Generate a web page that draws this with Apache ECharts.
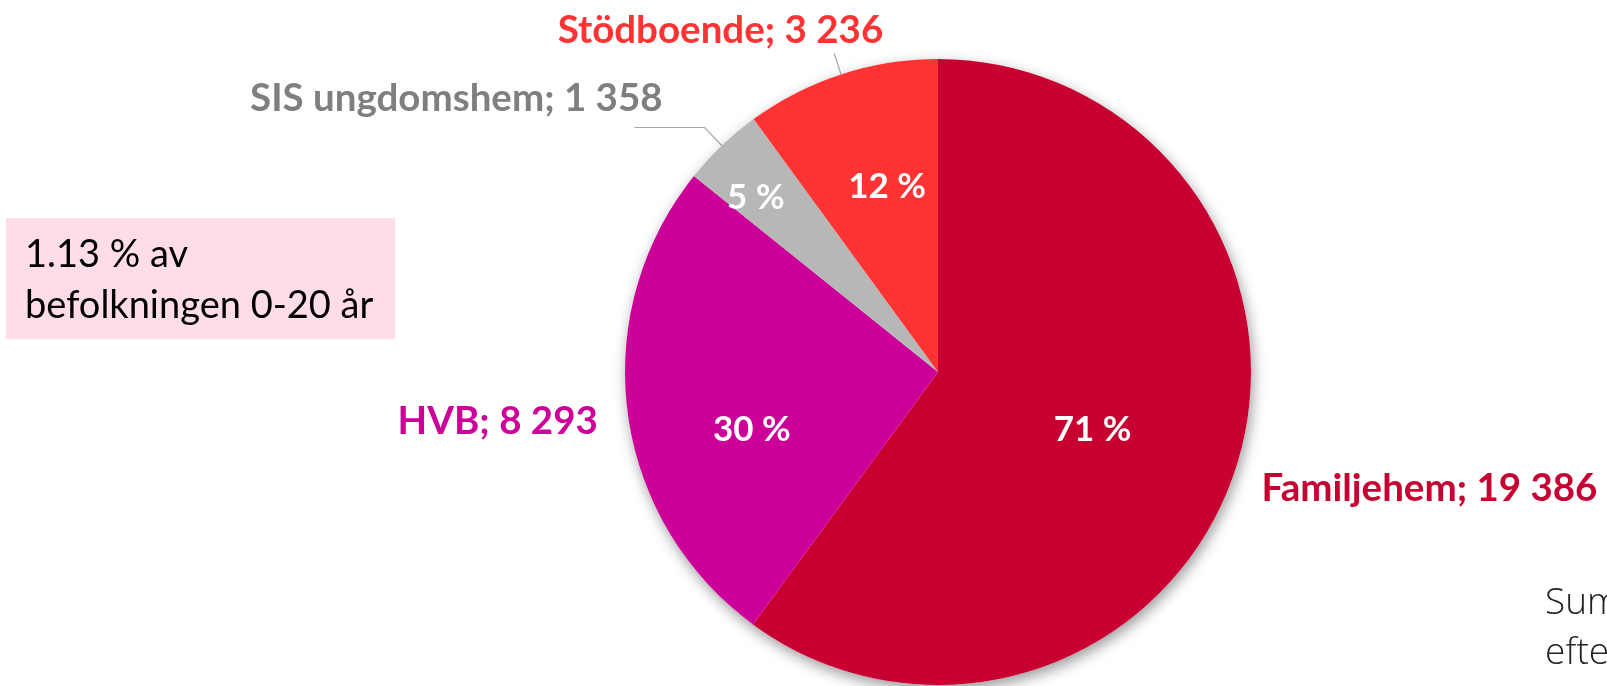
<!DOCTYPE html>
<html>
<head>
<meta charset="utf-8">
<script src="https://cdn.jsdelivr.net/npm/echarts@6/dist/echarts.min.js"></script>
<style>
    html, body { margin: 0; padding: 0; background: #fff; }
    #main { width: 1607px; height: 686px; }
</style>
</head>
<body>
<div id="main"></div>
<script>
// data
var categories = ['Familjehem', 'HVB', 'SIS ungdomshem', 'Stödboende'];
var values = [19386, 8293, 1358, 3236];
var pctLabels = ['71 %', '30 %', '5 %', '12 %'];
var noteLines = ['1.13 % av', 'befolkningen 0-20 år'];
var handLines = ['Summa', 'efter'];

// colors
var sliceColors = ['#C80032', '#CC0099', '#B7B7B7', '#FF3333'];
var labelColors = ['#C80032', '#CC0099', '#7F7F7F', '#FF3333'];

// leader line lengths and label nudges (outside / inside)
var lineLen = [20, 15, 25, 22];
var lineLen2 = [5, 5, 70, 0];
var outNudge = [[2, 13, 'left'], [-10, 7, 'right'], [28, -29, 'right'], [49, -23, 'right']];
var inNudge = [[3, 8], [-28, 37], [-72, -59], [-1.5, -34]];

var CX = 938, CY = 372, R = 313;

function fmt(v) {
    return String(v).replace(/\B(?=(\d{3})+(?!\d))/g, ' ');
}

var total = 0;
for (var i = 0; i < values.length; i++) total += values[i];

var mainData = [];
var pctData = [];
for (var i = 0; i < categories.length; i++) {
    mainData.push({
        name: categories[i],
        value: values[i],
        itemStyle: { color: sliceColors[i] },
        label: { color: labelColors[i] },
        labelLine: {
            length: lineLen[i],
            length2: lineLen2[i],
            lineStyle: { opacity: i < 2 ? 0 : 1 }
        }
    });
    pctData.push({ name: categories[i], value: values[i] });
}

var chart = echarts.init(document.getElementById('main'));

var handFont = '300 37px "Open Sans"';

var option = {
    backgroundColor: '#fff',
    animation: false,
    graphic: [
        {
            type: 'rect',
            shape: { x: 6, y: 218, width: 389, height: 121 },
            style: { fill: '#FFDDE7' },
            z: 1
        },
        {
            type: 'text', x: 25, y: 255, z: 2,
            style: { text: noteLines[0], font: '38px Lato', fill: '#000', verticalAlign: 'middle' }
        },
        {
            type: 'text', x: 25, y: 306, z: 2,
            style: { text: noteLines[1], font: '38px Lato', fill: '#000', verticalAlign: 'middle' }
        },
        {
            type: 'text', x: 1545, y: 603, z: 2,
            style: { text: handLines[0], font: handFont, fill: '#222', verticalAlign: 'middle' }
        },
        {
            type: 'text', x: 1545, y: 653, z: 2,
            style: { text: handLines[1], font: handFont, fill: '#222', verticalAlign: 'middle' }
        }
    ],
    series: [
        {
            // shadow under the whole pie
            type: 'pie',
            silent: true,
            center: [CX, CY],
            radius: [0, R],
            label: { show: false },
            labelLine: { show: false },
            itemStyle: {
                color: '#fff',
                borderWidth: 0,
                shadowBlur: 14,
                shadowOffsetX: 2,
                shadowOffsetY: 5,
                shadowColor: 'rgba(0,0,0,0.4)'
            },
            data: [{ name: 'total', value: total }]
        },
        {
            type: 'pie',
            silent: true,
            center: [CX, CY],
            radius: [0, R],
            startAngle: 90,
            clockwise: true,
            avoidLabelOverlap: false,
            itemStyle: { borderWidth: 0 },
            label: {
                show: true,
                position: 'outside',
                fontFamily: 'Lato',
                fontWeight: 'bold',
                fontSize: 38.5,
                formatter: function (p) {
                    return p.name + '; ' + fmt(p.value);
                }
            },
            labelLine: {
                show: true,
                smooth: false,
                lineStyle: { color: '#A6A6A6', width: 1.2 }
            },
            labelLayout: function (p) {
                var n = outNudge[p.dataIndex];
                var pts = p.labelLinePoints;
                if (!pts) return {};
                var end = pts[pts.length - 1];
                return {
                    x: end[0] + n[0],
                    y: end[1] + n[1],
                    align: n[2],
                    verticalAlign: 'middle',
                    labelLinePoints: pts
                };
            },
            data: mainData
        },
        {
            // percent labels inside the slices
            type: 'pie',
            silent: true,
            center: [CX, CY],
            radius: [0, R],
            startAngle: 90,
            clockwise: true,
            avoidLabelOverlap: false,
            itemStyle: { color: 'rgba(0,0,0,0)', borderWidth: 0 },
            label: {
                show: true,
                position: 'inside',
                color: '#fff',
                fontFamily: 'Lato',
                fontWeight: 'bold',
                fontSize: 35,
                formatter: function (p) {
                    return pctLabels[p.dataIndex];
                }
            },
            labelLine: { show: false },
            labelLayout: function (p) {
                var n = inNudge[p.dataIndex];
                var r = p.labelRect;
                return {
                    x: r.x + r.width / 2 + n[0],
                    y: r.y + r.height / 2 + n[1],
                    align: 'center',
                    verticalAlign: 'middle'
                };
            },
            data: pctData
        }
    ]
};

chart.setOption(option);
</script>
</body>
</html>
